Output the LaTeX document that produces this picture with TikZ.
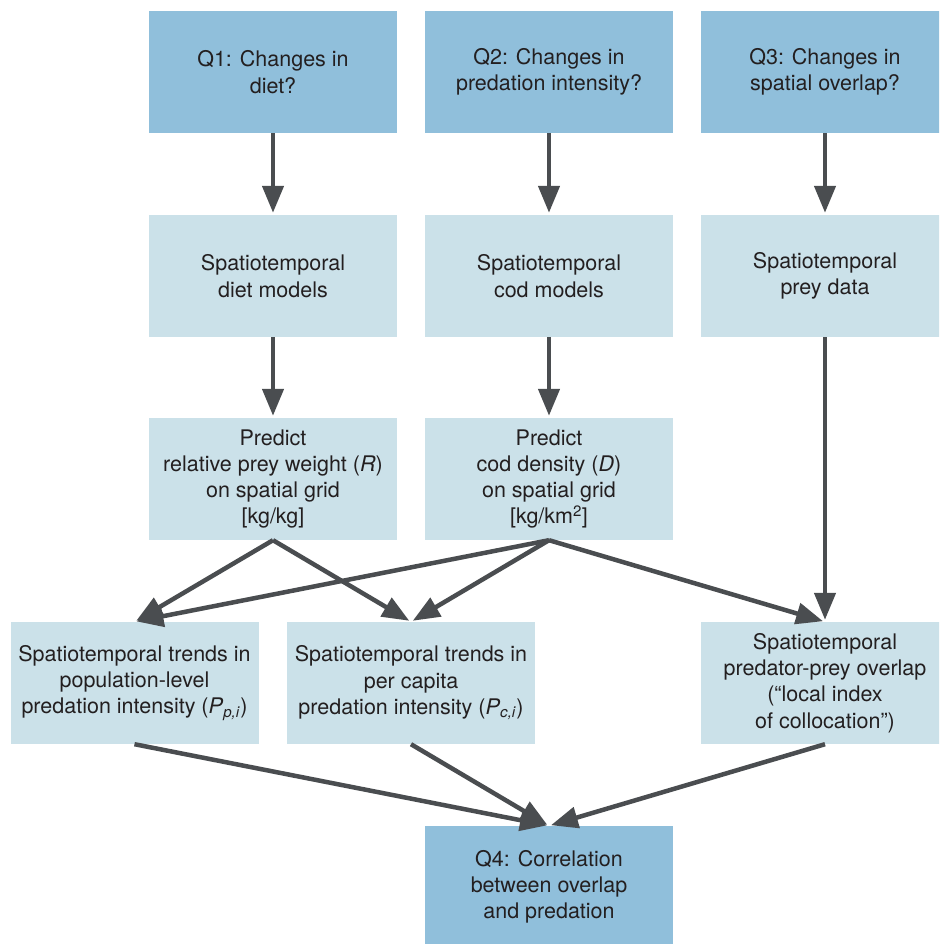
\documentclass[tikz,border=0pt]{standalone}
\usepackage{fontspec}
\setmainfont{TeX Gyre Heros}
\usetikzlibrary{arrows.meta}
\definecolor{qdark}{HTML}{90BFDB}
\definecolor{qlight}{HTML}{CBE1E9}
\definecolor{arrowgray}{HTML}{4A4D50}
\definecolor{txt}{HTML}{231F20}
\begin{document}
\begin{tikzpicture}[x=1pt,y=-1pt,
  box/.style={minimum width=248pt, minimum height=122pt, inner sep=0pt, align=center,
    text=txt, font=\fontsize{21.5}{26.3}\selectfont},
  qbox/.style={box, fill=qdark},
  lbox/.style={box, fill=qlight},
  conn/.style={draw=arrowgray, line width=4.5pt, -{Triangle[length=27pt,width=21pt]}, shorten >=2pt}
]
\useasboundingbox (0,0) rectangle (939,944);
\begin{scope}
\clip (0,0) rectangle (939,944);
\node[qbox] (q1) at (273,72) {Q1: Changes in\\diet?};
\node[qbox] (q2) at (549,72) {Q2: Changes in\\predation intensity?};
\node[qbox] (q3) at (825,72) {Q3: Changes in\\spatial overlap?};

\node[lbox] (dm) at (273,276) {Spatiotemporal\\diet models};
\node[lbox] (cm) at (549,276) {Spatiotemporal\\cod models};
\node[lbox] (pd) at (825,276) {Spatiotemporal\\prey data};

\node[lbox] (pr) at (273,479) {Predict\\relative prey weight (\textit{R})\\on spatial grid\\{[kg/kg]}};
\node[lbox] (pc) at (549,479) {Predict\\cod density (\textit{D})\\on spatial grid\\{[kg/km\textsuperscript{2}]}};

\node[lbox] (tp) at (134.5,683) {Spatiotemporal trends in\\population-level\\predation intensity (\textit{P}\textsubscript{\textit{p,i}})};
\node[lbox] (tc) at (411,683) {Spatiotemporal trends in\\per capita\\predation intensity (\textit{P}\textsubscript{\textit{c,i}})};
\node[lbox] (ov) at (825,683) {Spatiotemporal\\predator-prey overlap\\(“local index\\of collocation”)};

\node[qbox] (q4) at (549,887) {Q4: Correlation\\between overlap\\and predation};
\end{scope}

\draw[conn] (q1.south) -- (dm.north);
\draw[conn] (q2.south) -- (cm.north);
\draw[conn] (q3.south) -- (pd.north);
\draw[conn] (dm.south) -- (pr.north);
\draw[conn] (cm.south) -- (pc.north);
\draw[conn] (pd.south) -- (ov.north);

\draw[conn] (pr.south) -- (tp.north);
\draw[conn] (pr.south) -- (tc.north);
\draw[conn] (pc.south) -- (tp.north);
\draw[conn] (pc.south) -- (tc.north);
\draw[conn] (pc.south) -- (ov.north);

\draw[conn] (tp.south) -- (q4.north);
\draw[conn] (tc.south) -- (q4.north);
\draw[conn] (ov.south) -- (q4.north);
\end{tikzpicture}
\end{document}
